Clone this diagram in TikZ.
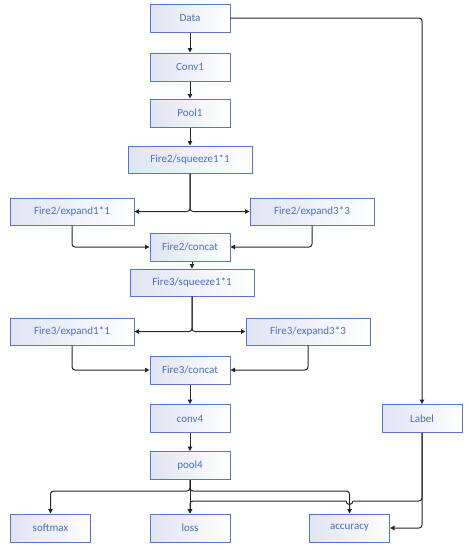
\documentclass[tikz,border=0pt]{standalone}
\usepackage{fontspec}
\setmainfont{Carlito}
\usetikzlibrary{arrows.meta,calc}
\definecolor{boxblue}{HTML}{5477C9}
\definecolor{txtblue}{HTML}{4A70C0}
\definecolor{fillblue}{HTML}{E0E4F2}
\begin{document}
\begin{tikzpicture}[x=1pt,y=-1pt,
  box/.style={draw=boxblue,line width=1pt,left color=fillblue,right color=white,
    minimum width=80pt,minimum height=28pt,inner sep=0pt,text=txtblue,
    font=\fontsize{11}{13}\selectfont},
  wide/.style={box,minimum width=124pt,minimum height=27pt},
  conn/.style={draw=black!85,line width=1pt,rounded corners=3pt},
  arr/.style={conn,-{Triangle[length=4.5pt,width=4.5pt]}}]
\useasboundingbox (0,0) rectangle (469,550);
\node[box] (data) at (190,18) {Data};
\node[box] (conv1) at (190,67) {Conv1};
\node[box] (pool1) at (190,113) {Pool1};
\node[wide] (sq2) at (190,159.5) {Fire2/squeeze1*1};
\node[wide] (e21) at (72,211.5) {Fire2/expand1*1};
\node[wide] (e23) at (312,211.5) {Fire2/expand3*3};
\node[box] (cc2) at (190,247) {Fire2/concat};
\node[wide] (sq3) at (192,282.5) {Fire3/squeeze1*1};
\node[wide] (e31) at (72,331.5) {Fire3/expand1*1};
\node[wide] (e33) at (308,331.5) {Fire3/expand3*3};
\node[box] (cc3) at (190,370) {Fire3/concat};
\node[box] (conv4) at (190,418.5) {conv4};
\node[box] (label) at (422,418.5) {Label};
\node[box] (pool4) at (190,465.5) {pool4};
\node[box] (softmax) at (50.5,528) {softmax};
\node[box] (loss) at (190,528) {loss};
\node[box] (acc) at (349.5,528) {accuracy};
\coordinate (b1) at (190,491);
\coordinate (h1) at (422,501);
\coordinate (hopR) at (353,501);
\coordinate (hopL) at (346,501);
\coordinate (h2) at (190,501);

\draw[arr] (data) -- (conv1);
\draw[arr] (conv1) -- (pool1);
\draw[arr] (pool1) -- (sq2);
\draw[arr] (sq2.south) |- (e21.east);
\draw[arr] (sq2.south) |- (e23.west);
\draw[arr] (e21.south) |- (cc2.west);
\draw[arr] (e23.south) |- (cc2.east);
\draw[arr] (sq3.north |- cc2.south) -- (sq3.north);
\draw[arr] (sq3.south) |- (e31.east);
\draw[arr] (sq3.south) |- (e33.west);
\draw[arr] (e31.south) |- (cc3.west);
\draw[arr] (e33.south) |- (cc3.east);
\draw[arr] (cc3) -- (conv4);
\draw[arr] (conv4) -- (pool4);
\draw[arr] (pool4.south) -- (b1) -| (softmax.north);
\draw[arr] (pool4.south) -- (b1) -| (acc.north);
\draw[arr] (pool4) -- (loss);
\draw[arr] (data.east) -| (label.north);
\draw[arr] (label.south) |- (acc.east);
\draw[conn] (label.south) -- (h1) -- (hopR);
\draw[conn,rounded corners=0pt] (hopR) arc[start angle=0,end angle=-180,radius=3.5pt];
\draw[arr] (hopL) -- (h2) -- (loss.north);
\end{tikzpicture}
\end{document}
